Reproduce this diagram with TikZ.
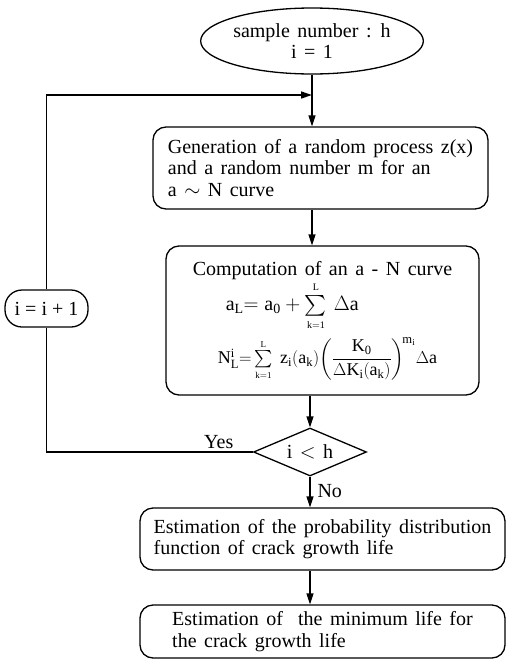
\documentclass[tikz,border=0pt]{standalone}
\usepackage{amsmath}
\usepackage{fontspec}
\setmainfont{Liberation Serif}
\usetikzlibrary{arrows.meta,positioning,shapes.geometric}
\newcommand\flowfont{\fontsize{20}{21.5}\selectfont\spaceskip=7.5pt plus 2pt minus 1pt\relax}
\newcommand\sumkL{\sum\limits_{\scriptscriptstyle\mathrm{k=1}}^{\scriptscriptstyle\mathrm{L}}}

\begin{document}
\begin{tikzpicture}[x=1pt,y=-1pt,
  every node/.style={font=\flowfont},
  block/.style={draw,line width=1.3pt,rounded corners=13pt,align=left,minimum width=365pt},
  oval/.style={draw,line width=1.3pt,ellipse,align=center,inner sep=0pt},
  test/.style={draw,line width=1.3pt,diamond,aspect=2.35,inner sep=1pt,minimum width=113pt,minimum height=48pt},
  arrow/.style={-{Triangle[length=11pt,width=7pt]},line width=1.3pt},
  line/.style={line width=1.3pt}
]
\useasboundingbox (0,0) rectangle (507,662);
\node[oval,minimum width=168pt,minimum height=66pt] (start) at (312,41) {sample number : h\\ i = 1};
\node[block,minimum width=335pt,minimum height=82pt] (gen) at (320.5,168) {Generation of a random process z(x)\\and a random number m for an\\a $\sim$ N curve};
\node[block,minimum width=313pt,minimum height=149pt,inner sep=0pt] (comp) at (322.5,320.5) {Computation of an a - N curve\\[2pt]
  \hspace*{33pt}$\mathrm{a_L}{=}\;\mathrm{a_0}+\sumkL\,\Delta\mathrm{a}$\\[6pt]
  \hspace*{25pt}{\fontsize{18}{20}\selectfont$\mathrm{N_L^i}{=}\sumkL\;\mathrm{z_i(a_k)}\!\left(\dfrac{\mathrm{K_0}}{\Delta\mathrm{K_i(a_k)}}\right)^{\!\mathrm{m_i}}\!\Delta\mathrm{a}$}};
\node[block,font=\fontsize{20}{21.5}\selectfont,rounded corners=17pt,minimum width=83pt,minimum height=37pt,inner sep=2pt] (inc) at (46.5,308.5) {i = i + 1};
\node[test] (check) at (310,452) {i $<$ h};
\node[block,minimum height=62pt] (est) at (322.5,539) {Estimation of the probability distribution\\function of crack growth life};
\node[block,minimum height=53pt] (life) at (322.5,631.5) {Estimation of \ the minimum life for\\the crack growth life};
\node[above left=0pt and 16pt of check.west] (yes) {Yes};
\node[anchor=west] (no) at (314,491) {No};
\coordinate (merge) at (312,95);
\draw[arrow] (start.south) -- (start.south |- gen.north);
\draw[arrow] (start.south |- gen.south) -- (start.south |- comp.north);
\draw[arrow] (check.north |- comp.south) -- (check.north);
\draw[arrow] (check.south) -- (check.south |- est.north);
\draw[arrow] (check.south |- est.south) -- (check.south |- life.north);
\draw[line] (check.west) -| (inc.south);
\draw[arrow] (inc.north) |- (merge);
\end{tikzpicture}
\end{document}
